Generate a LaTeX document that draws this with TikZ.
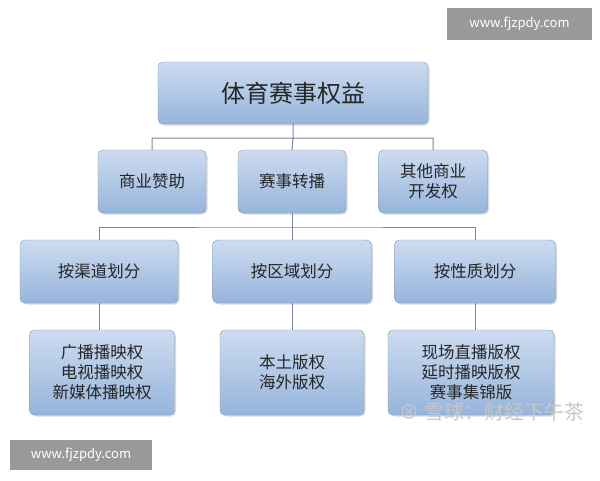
\documentclass[tikz,border=0pt]{standalone}
\usepackage{fontspec}
\setmainfont{Noto Sans CJK SC}
\usetikzlibrary{shadows}
\definecolor{bxtop}{RGB}{205,220,240}
\definecolor{bxbot}{RGB}{150,180,220}
\definecolor{bxline}{RGB}{125,150,185}
\definecolor{ln}{RGB}{120,135,160}
\begin{document}
\begin{tikzpicture}[x=1pt,y=-1pt,
 bx/.style={draw=bxline,rounded corners=5pt,top color=bxtop,bottom color=bxbot,
   drop shadow={shadow xshift=1.5pt,shadow yshift=-1.5pt,opacity=0.3},
   align=center,font=\fontsize{16.5}{20}\selectfont,text=black!85,inner sep=0pt},
 con/.style={draw=ln,line width=1pt},
 wm/.style={fill=black!40,text=white,font=\fontsize{13}{15}\selectfont,inner sep=0pt}]
\useasboundingbox (0,0) rectangle (600,480);
\fill[white] (0,0) rectangle (600,480);
\draw[con] (293,124) -- (293,138) (152,150) |- (293,138) -| (433,150) (293,138) -- (292,150);
\draw[con] (292,213) -- (292,227) (99,240) |- (292,227) -| (475,240) (292,227) -- (292,240);
\node[bx,minimum width=270,minimum height=62,font=\fontsize{24}{28}\selectfont] (root) at (293,93) {体育赛事权益};
\node[bx,minimum width=108,minimum height=63] (a) at (152,181.5) {商业赞助};
\node[bx,minimum width=108,minimum height=63] (b) at (292,181.5) {赛事转播};
\node[bx,minimum width=109,minimum height=63] (c) at (433,181.5) {其他商业\\开发权};
\node[bx,minimum width=158,minimum height=63] (d) at (99,271.5) {按渠道划分};
\node[bx,minimum width=159,minimum height=63] (e) at (292,271.5) {按区域划分};
\node[bx,minimum width=161,minimum height=63] (f) at (475,271.5) {按性质划分};
\node[bx,minimum width=145,minimum height=85] (g) at (102,372.5) {广播播映权\\电视播映权\\新媒体播映权};
\node[bx,minimum width=144,minimum height=85] (h) at (292,372.5) {本土版权\\海外版权};
\node[bx,minimum width=166,minimum height=85] (i) at (471,372.5) {现场直播版权\\延时播映版权\\赛事集锦版};
\draw[con] (d.south) -- (99,330);
\draw[con] (e.south) -- (h.north);
\draw[con] (f.south) -- (475,330);
\node[wm,minimum width=145,minimum height=32] (w1) at (519.5,24) {www.fjzpdy.com};
\node[wm,minimum width=142,minimum height=30] (w2) at (81,455) {www.fjzpdy.com};
\node[text=black!22,font=\fontsize{20}{24}\selectfont] (w3) at (492,412) {⊗ 雪球：财经下午茶};
\end{tikzpicture}
\end{document}
